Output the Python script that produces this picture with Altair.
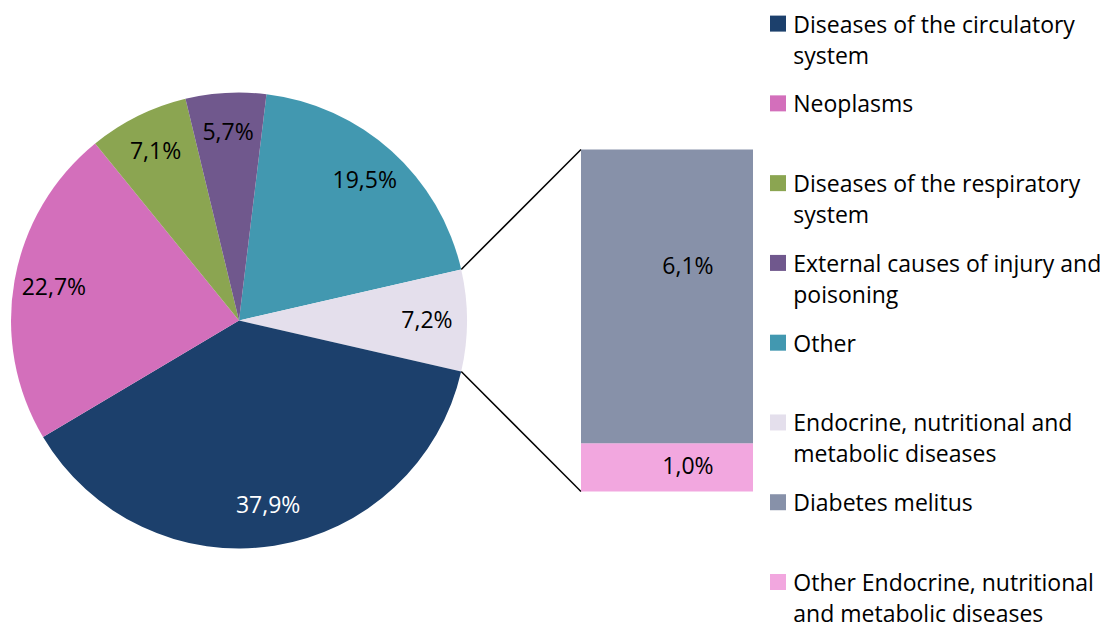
import math
import altair as alt
import pandas as pd

# ---------------- data ----------------
pie_categories = [
    "Other",
    "Endocrine, nutritional and metabolic diseases",
    "Diseases of the circulatory system",
    "Neoplasms",
    "Diseases of the respiratory system",
    "External causes of injury and poisoning",
]
pie_values = [19.5, 7.2, 37.9, 22.7, 7.1, 5.7]

bar_categories = ["Other Endocrine, nutritional and metabolic diseases", "Diabetes melitus"]
bar_values = [1.0, 6.1]

legend_order = [
    "Diseases of the circulatory system",
    "Neoplasms",
    "Diseases of the respiratory system",
    "External causes of injury and poisoning",
    "Other",
    "Endocrine, nutritional and metabolic diseases",
    "Diabetes melitus",
    "Other Endocrine, nutritional and metabolic diseases",
]
legend_text = [
    "Diseases of the circulatory|system",
    "Neoplasms",
    "Diseases of the respiratory|system",
    "External causes of injury and|poisoning",
    "Other",
    "Endocrine, nutritional and|metabolic diseases",
    "Diabetes melitus",
    "Other Endocrine, nutritional|and metabolic diseases",
]
legend_colors = [
    "#1C406C", "#D36FBB", "#8BA551", "#70588D",
    "#4298B0", "#E4DFEC", "#8791A9", "#F2A7DF",
]

# ---------------- geometry / style ----------------
W, H = 1094, 621
FONT = "Open Sans"
FS = 23
CX, CY, R = 231, 312.5, 228
LABEL_R = 188
BAR_X0, BAR_X1 = 573, 745
BAR_TOP, BAR_BOTTOM = 141.5, 483.5

total = sum(pie_values)
endo_i = 1
before = sum(pie_values[:endo_i])
# rotate so that the slice broken out into the bar is centered at 3 o'clock
start = math.pi / 2 - 2 * math.pi * (before + pie_values[endo_i] / 2) / total

def fmt(v):
    return f"{v:.1f}".replace(".", ",") + "%"

color_scale = alt.Scale(domain=legend_order, range=legend_colors)

# ---------------- pie ----------------
pie_df = pd.DataFrame({"cat": pie_categories, "value": pie_values,
                       "ord": list(range(len(pie_values)))})
pie_df["label"] = [fmt(v) for v in pie_values]

base = alt.Chart(pie_df).encode(
    theta=alt.Theta("value:Q", stack=True,
                    scale=alt.Scale(range=[start, start + 2 * math.pi])),
    order=alt.Order("ord:Q"),
)
arcs = base.mark_arc(radius=R).encode(
    x=alt.value(CX), y=alt.value(CY),
    color=alt.Color("cat:N", scale=color_scale, legend=None),
)
pie_text = base.mark_text(radius=LABEL_R, font=FONT, fontSize=FS).encode(
    x=alt.value(CX), y=alt.value(CY),
    text="label:N",
    color=alt.condition(alt.datum.cat == "Diseases of the circulatory system",
                        alt.value("white"), alt.value("black")),
)

# ---------------- connectors ----------------
a0 = start + 2 * math.pi * before / total
a1 = a0 + 2 * math.pi * pie_values[endo_i] / total
conn_df = pd.DataFrame({
    "x": [CX + R * math.sin(a0), CX + R * math.sin(a1)],
    "y": [CY - R * math.cos(a0), CY - R * math.cos(a1)],
    "x2": [BAR_X0, BAR_X0],
    "y2": [BAR_TOP, BAR_BOTTOM],
})
rules = alt.Chart(conn_df).mark_rule(color="black", strokeWidth=1.5).encode(
    x=alt.X("x:Q", scale=None), y=alt.Y("y:Q", scale=None),
    x2="x2:Q", y2="y2:Q",
)

# ---------------- bar ----------------
bar_df = pd.DataFrame({"cat": bar_categories, "value": bar_values})
bar_df["end"] = bar_df["value"].cumsum()
bar_df["start"] = bar_df["end"] - bar_df["value"]
bar_df["mid"] = bar_df["start"] + bar_df["value"] / 2
bar_df["label"] = [fmt(v) for v in bar_values]
bar_y = alt.Scale(domain=[0, sum(bar_values)], range=[BAR_BOTTOM, BAR_TOP])

bars = alt.Chart(bar_df).mark_rect().encode(
    x=alt.value(BAR_X0), x2=alt.value(BAR_X1),
    y=alt.Y("start:Q", scale=bar_y, axis=None), y2="end:Q",
    color=alt.Color("cat:N", scale=color_scale, legend=None),
)
bar_text_small = alt.Chart(bar_df).transform_filter(
    alt.datum.cat != "Diabetes melitus"
).mark_text(font=FONT, fontSize=FS, color="black").encode(
    x=alt.value((BAR_X0 + BAR_X1) / 2 + 21),
    y=alt.Y("mid:Q", scale=bar_y, axis=None),
    text="label:N",
)
bar_text_big = alt.Chart(bar_df).transform_filter(
    alt.datum.cat == "Diabetes melitus"
).mark_text(font=FONT, fontSize=FS, color="black", dy=-29).encode(
    x=alt.value((BAR_X0 + BAR_X1) / 2 + 21),
    y=alt.Y("mid:Q", scale=bar_y, axis=None),
    text="label:N",
)

# ---------------- legend ----------------
leg_df = pd.DataFrame({"cat": legend_order, "text": legend_text})
leg_y = alt.Scale(type="point", domain=legend_order, range=[15.6, 574], padding=0)
leg_sq = alt.Chart(leg_df).mark_square(size=256, opacity=1).encode(
    x=alt.value(770),
    y=alt.Y("cat:N", scale=leg_y, axis=None),
    color=alt.Color("cat:N", scale=color_scale, legend=None),
)
leg_txt = alt.Chart(leg_df).transform_calculate(
    lines="split(datum.text, '|')"
).mark_text(align="left", baseline="middle", font=FONT, fontSize=FS,
            lineHeight=31, dy=2, color="black").encode(
    x=alt.value(785.3),
    y=alt.Y("cat:N", scale=leg_y, axis=None),
    text="lines:N",
)

chart = alt.layer(
    rules, arcs, pie_text, bars, bar_text_small, bar_text_big, leg_sq, leg_txt
).resolve_scale(
    y="independent", x="independent"
).properties(
    width=W, height=H, padding=0, autosize="none"
).configure_view(stroke=None)

chart.save("out.html", embed_options={"renderer": "svg", "actions": False})
